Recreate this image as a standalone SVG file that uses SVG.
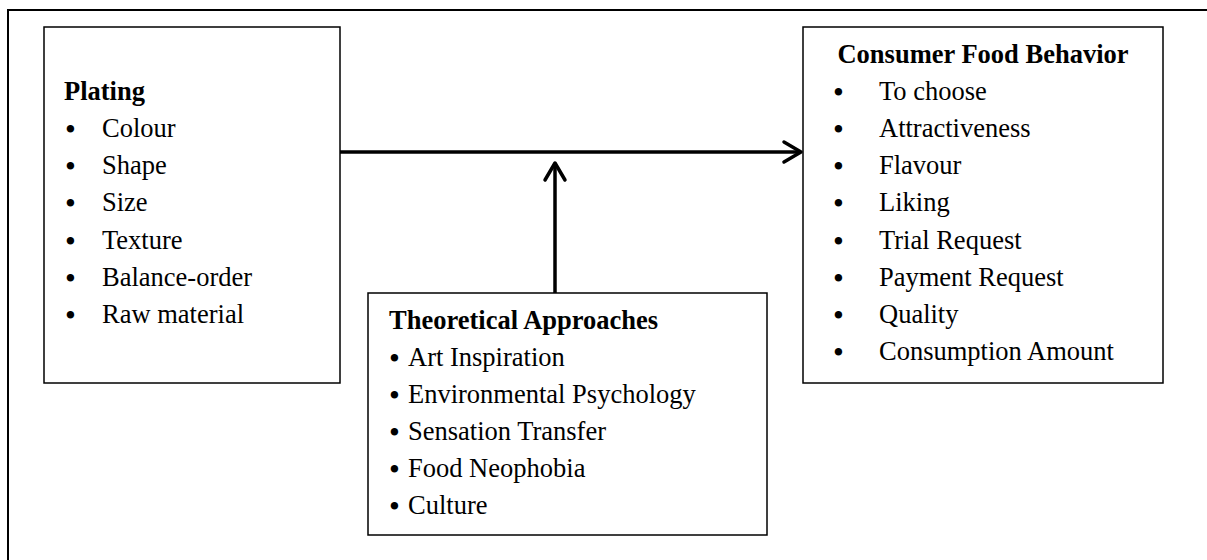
<svg xmlns="http://www.w3.org/2000/svg" width="1207" height="560" viewBox="0 0 1207 560">
<style>
.box{fill:#fff;stroke:#000;stroke-width:1.5}
.t{font-family:"Liberation Serif","Times New Roman",serif;font-size:26.5px;fill:#000}
.b{font-weight:bold}
.u{font-family:"Liberation Serif","Times New Roman",serif;font-size:31px;fill:#000}
.c{stroke:#000;stroke-width:3.5;fill:none}
.h{stroke:#000;stroke-width:3.5;fill:none;stroke-linecap:round;stroke-linejoin:round}
</style>
<rect width="1207" height="560" fill="#fff"/>
<path d="M8 570 V10 H1220" fill="none" stroke="#000" stroke-width="2"/>
<g id="plating">
<rect class="box" x="44" y="27" width="296" height="356"/>
<text class="t b" x="64" y="100">Plating</text>
<g class="u">
<text x="65" y="140">•</text><text x="65" y="177">•</text><text x="65" y="214">•</text>
<text x="65" y="252">•</text><text x="65" y="289">•</text><text x="65" y="326">•</text>
</g>
<g class="t">
<text x="102" y="137">Colour</text>
<text x="102" y="174">Shape</text>
<text x="102" y="211">Size</text>
<text x="102" y="249">Texture</text>
<text x="102" y="286">Balance-order</text>
<text x="102" y="323">Raw material</text>
</g>
</g>
<g id="consumer">
<rect class="box" x="803" y="27" width="360" height="356"/>
<text class="t b" x="983" y="63" text-anchor="middle">Consumer Food Behavior</text>
<g class="u">
<text x="833" y="103">•</text><text x="833" y="140">•</text><text x="833" y="177">•</text><text x="833" y="214">•</text>
<text x="833" y="252">•</text><text x="833" y="289">•</text><text x="833" y="326">•</text><text x="833" y="363">•</text>
</g>
<g class="t">
<text x="879" y="100">To choose</text>
<text x="879" y="137">Attractiveness</text>
<text x="879" y="174">Flavour</text>
<text x="879" y="211">Liking</text>
<text x="879" y="249">Trial Request</text>
<text x="879" y="286">Payment Request</text>
<text x="879" y="323">Quality</text>
<text x="879" y="360">Consumption Amount</text>
</g>
</g>
<g id="theoretical">
<rect class="box" x="368" y="293" width="399" height="242"/>
<text class="t b" x="389" y="329">Theoretical Approaches</text>
<g class="u">
<text x="389" y="369">•</text><text x="389" y="406">•</text><text x="389" y="443">•</text>
<text x="389" y="480">•</text><text x="389" y="517">•</text>
</g>
<g class="t">
<text x="408" y="366">Art Inspiration</text>
<text x="408" y="403">Environmental Psychology</text>
<text x="408" y="440">Sensation Transfer</text>
<text x="408" y="477">Food Neophobia</text>
<text x="408" y="514">Culture</text>
</g>
</g>
<g id="connectors">
<line class="c" x1="340" y1="152" x2="801" y2="152"/>
<polyline class="h" points="784,142 801,152 784,162"/>
<line class="c" x1="555" y1="293" x2="555" y2="164"/>
<polyline class="h" points="545,180 555,163 565,180"/>
</g>
</svg>
